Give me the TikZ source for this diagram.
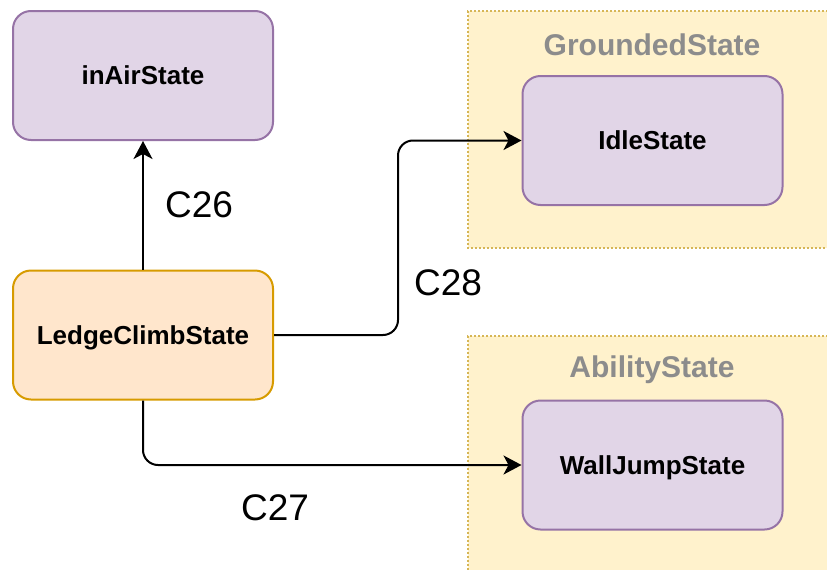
\documentclass[tikz,border=0pt]{standalone}
\usepackage{fontspec}
\setmainfont{Liberation Sans}
\usepackage{xcolor}
\usetikzlibrary{arrows.meta}

\definecolor{stateFill}{HTML}{E1D5E7}
\definecolor{stateLine}{HTML}{9673A6}
\definecolor{ledgeFill}{HTML}{FFE6CC}
\definecolor{ledgeLine}{HTML}{D79B00}
\definecolor{groupFill}{HTML}{FFF2CC}
\definecolor{groupLine}{HTML}{D6B656}
\definecolor{groupText}{HTML}{8C8C8C}

\begin{document}
\begin{tikzpicture}[x=1pt, y=-1pt, >={Stealth[length=18pt, width=19pt, inset=5pt]},
    state/.style={draw=stateLine, fill=stateFill, line width=2pt, rounded corners=18pt,
        minimum width=260pt, minimum height=129pt, inner sep=0pt,
        text height=18.6pt, text depth=0pt,
        font=\fontsize{26}{30}\selectfont\bfseries},
    group/.style={draw=groupLine, line width=2pt, dotted},
    grouptitle/.style={text=groupText, font=\fontsize{30}{34}\selectfont\bfseries},
    trans/.style={->, line width=2pt, rounded corners=15pt},
    tlabel/.style={font=\fontsize{37}{40}\selectfont}]
    \useasboundingbox (0,0) rectangle (827,570);
    \clip (0,0) rectangle (827,570);

    % Parent groups
    \fill[groupFill] (468,11) rectangle (840,248);
    \draw[group] (840,11) -- (468,11) -- (468,248) -- (840,248);
    \node[grouptitle] (groundedTitle) at (652,45) {GroundedState};
    \fill[groupFill] (468,336) rectangle (840,590);
    \draw[group] (840,336) -- (468,336) -- (468,590);
    \node[grouptitle] (abilityTitle) at (652,370) {AbilityState};

    % States
    \node[state] (inAir) at (143,75.5) {inAirState};
    \node[state, draw=ledgeLine, fill=ledgeFill] (ledgeClimb) at (143,335) {LedgeClimbState};
    \node[state] (idle) at (652.5,140.5) {IdleState};
    \node[state] (wallJump) at (652.5,465) {WallJumpState};

    % Transitions
    \draw[trans] (ledgeClimb.north) -- (inAir.south);
    \draw[trans] (ledgeClimb.east) -| (398,240) |- (idle.west);
    \draw[trans] (ledgeClimb.south) |- (wallJump.west);

    % Conditions
    \node[tlabel] (c26) at (199,205) {C26};
    \node[tlabel] (c28) at (448,283) {C28};
    \node[tlabel] (c27) at (275,508) {C27};
\end{tikzpicture}
\end{document}
